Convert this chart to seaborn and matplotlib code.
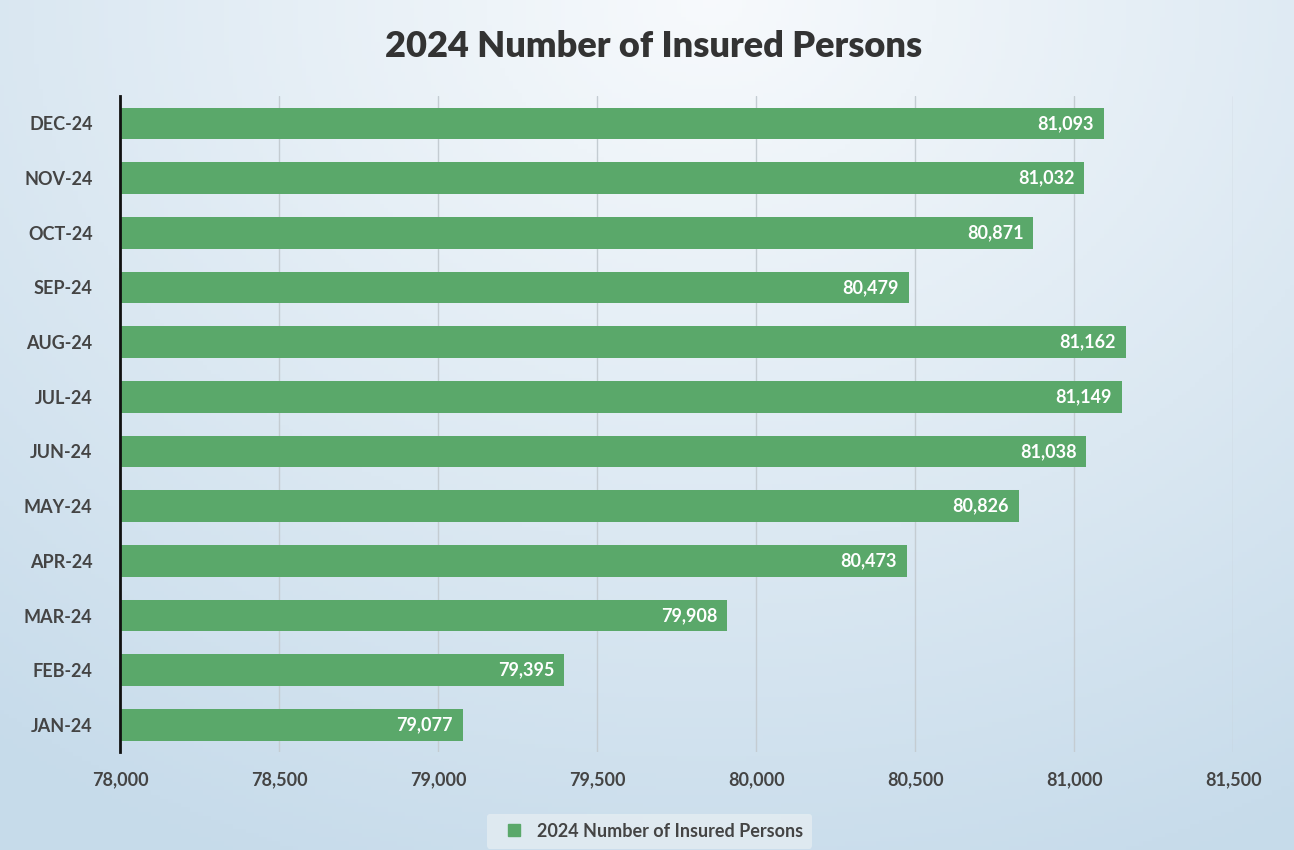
import numpy as np
import matplotlib
matplotlib.use("Agg")
import matplotlib.pyplot as plt
import seaborn as sns
from matplotlib.lines import Line2D

# Data (top to bottom as in the chart)
months = ["DEC-24", "NOV-24", "OCT-24", "SEP-24", "AUG-24", "JUL-24",
          "JUN-24", "MAY-24", "APR-24", "MAR-24", "FEB-24", "JAN-24"]
insured = [81093, 81032, 80871, 80479, 81162, 81149,
           81038, 80826, 80473, 79908, 79395, 79077]
x_ticks = [78000, 78500, 79000, 79500, 80000, 80500, 81000, 81500]

TITLE = "2024 Number of Insured Persons"
BAR_GREEN = "#5aa86a"
TEXT_GRAY = "#444444"

sns.set_theme(style="white")
plt.rcParams["font.family"] = ["Lato", "DejaVu Sans"]

fig = plt.figure(figsize=(12.94, 8.5), dpi=100)

# soft blue background, whiter towards the top centre
bg = fig.add_axes([0, 0, 1, 1], zorder=-10)
yy, xx = np.mgrid[0:1:200j, 0:1:300j]
dist = np.sqrt(((xx - 0.55) / 0.9) ** 2 + ((yy - 0.0) / 1.1) ** 2)
shade = np.clip(dist, 0, 1)
c0 = np.array([0.97, 0.98, 0.99])
c1 = np.array([0.78, 0.86, 0.92])
img = c0 + (c1 - c0) * shade[..., None]
bg.imshow(img, aspect="auto", extent=[0, 1, 0, 1], origin="upper")
bg.axis("off")

ax = fig.add_axes([0.093, 0.115, 0.86, 0.772])
ax.patch.set_alpha(0)

sns.barplot(x=insured, y=months, orient="h", color=BAR_GREEN,
            width=0.58, saturation=1, linewidth=0, ax=ax, zorder=3)

ax.set_xlim(78000, 81500)
ax.set_xticks(x_ticks)
ax.set_xticklabels([f"{v:,}" for v in x_ticks], fontsize=13, color=TEXT_GRAY)
ax.tick_params(axis="y", labelsize=13, labelcolor=TEXT_GRAY, length=0, pad=20)
ax.tick_params(axis="x", length=0, pad=14)
for lbl in ax.get_yticklabels() + ax.get_xticklabels():
    lbl.set_fontweight("bold")

ax.xaxis.grid(True, color="#c4ccd2", linewidth=1, zorder=0)
ax.set_axisbelow(True)
ax.set_xlabel("")
ax.set_ylabel("")
for side in ["top", "right", "bottom"]:
    ax.spines[side].set_visible(False)
ax.spines["left"].set_color("#111111")
ax.spines["left"].set_linewidth(2)
ax.spines["left"].set_zorder(5)

# value labels inside the bar ends
texts = ax.bar_label(ax.containers[0], labels=[f"{v:,}" for v in insured],
                     padding=-7, color="white", fontsize=13, fontweight="bold")
for t in texts:
    t.set_ha("right")

fig.text(0.505, 0.945, TITLE, ha="center", va="center",
         fontsize=26, fontweight="heavy", color="#333333")

handle = Line2D([], [], marker="s", linestyle="none", markersize=8,
                markerfacecolor=BAR_GREEN, markeredgecolor=BAR_GREEN)
leg = fig.legend([handle], [TITLE], loc="center", bbox_to_anchor=(0.502, 0.022),
                 frameon=True, fontsize=13, handletextpad=0.3,
                 borderpad=0.5, borderaxespad=0, labelcolor=TEXT_GRAY)
leg.get_frame().set_facecolor("#e4edf2")
leg.get_frame().set_edgecolor("none")
leg.get_frame().set_alpha(0.8)
for t in leg.get_texts():
    t.set_fontweight("bold")

fig.savefig("out.png", dpi=100)
